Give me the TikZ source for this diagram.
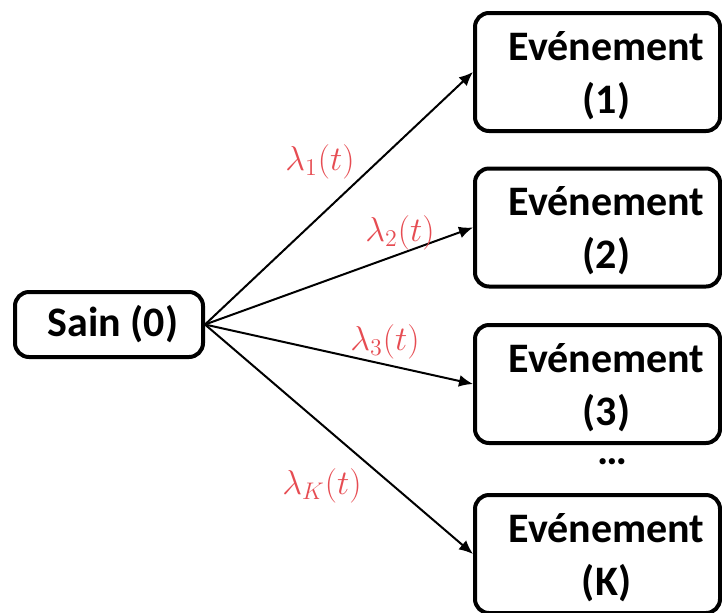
\documentclass[tikz,border=0pt]{standalone}
\usepackage{fontspec}
\setmainfont{Carlito}
\usetikzlibrary{arrows.meta}
\definecolor{lamred}{RGB}{230,76,82}
\newcommand{\evlabel}[1]{\hspace*{9pt}Evénement\\\hspace*{9pt}(#1)}
\tikzset{
  etat/.style={draw,line width=2pt,rounded corners=7pt,align=center,
    font=\fontsize{21}{26.5}\selectfont\bfseries,inner sep=0pt},
  evt/.style={etat,minimum width=122.5pt,minimum height=59pt,text depth=-4pt},
  lab/.style={text=lamred,font=\fontsize{17.5}{20}\selectfont},
  trans/.style={line width=1pt,-{Latex[length=7pt,width=6pt]}}
}
\begin{document}
\begin{tikzpicture}[x=0.5pt,y=-0.5pt]
        \useasboundingbox (0,0) rectangle (722,612);
        \node[etat,minimum width=94pt,minimum height=32.5pt] (sain) at (109,324.5) {\hspace*{4pt}Sain (0)};
        \node[evt] (ev1) at (597.5,72) {\evlabel{1}};
        \node[evt] (ev2) at (597.5,227.5) {\evlabel{2}};
        \node[evt] (ev3) at (597.5,384) {\evlabel{3}};
        \node[evt] (evK) at (597.5,554) {\evlabel{K}};
        \node[font=\fontsize{21}{24}\selectfont\bfseries] (dots) at (612,462) {\dots};
        \draw[trans] (sain.east) -- (ev1.west);
        \draw[trans] (sain.east) -- (ev2.west);
        \draw[trans] (sain.east) -- (ev3.west);
        \draw[trans] (sain.east) -- (evK.west);
        \node[lab] (l1) at (320,162) {$\lambda_1(t)$};
        \node[lab] (l2) at (400,233) {$\lambda_2(t)$};
        \node[lab] (l3) at (385,342) {$\lambda_3(t)$};
        \node[lab] (lK) at (322,486) {$\lambda_K(t)$};
\end{tikzpicture}
\end{document}
